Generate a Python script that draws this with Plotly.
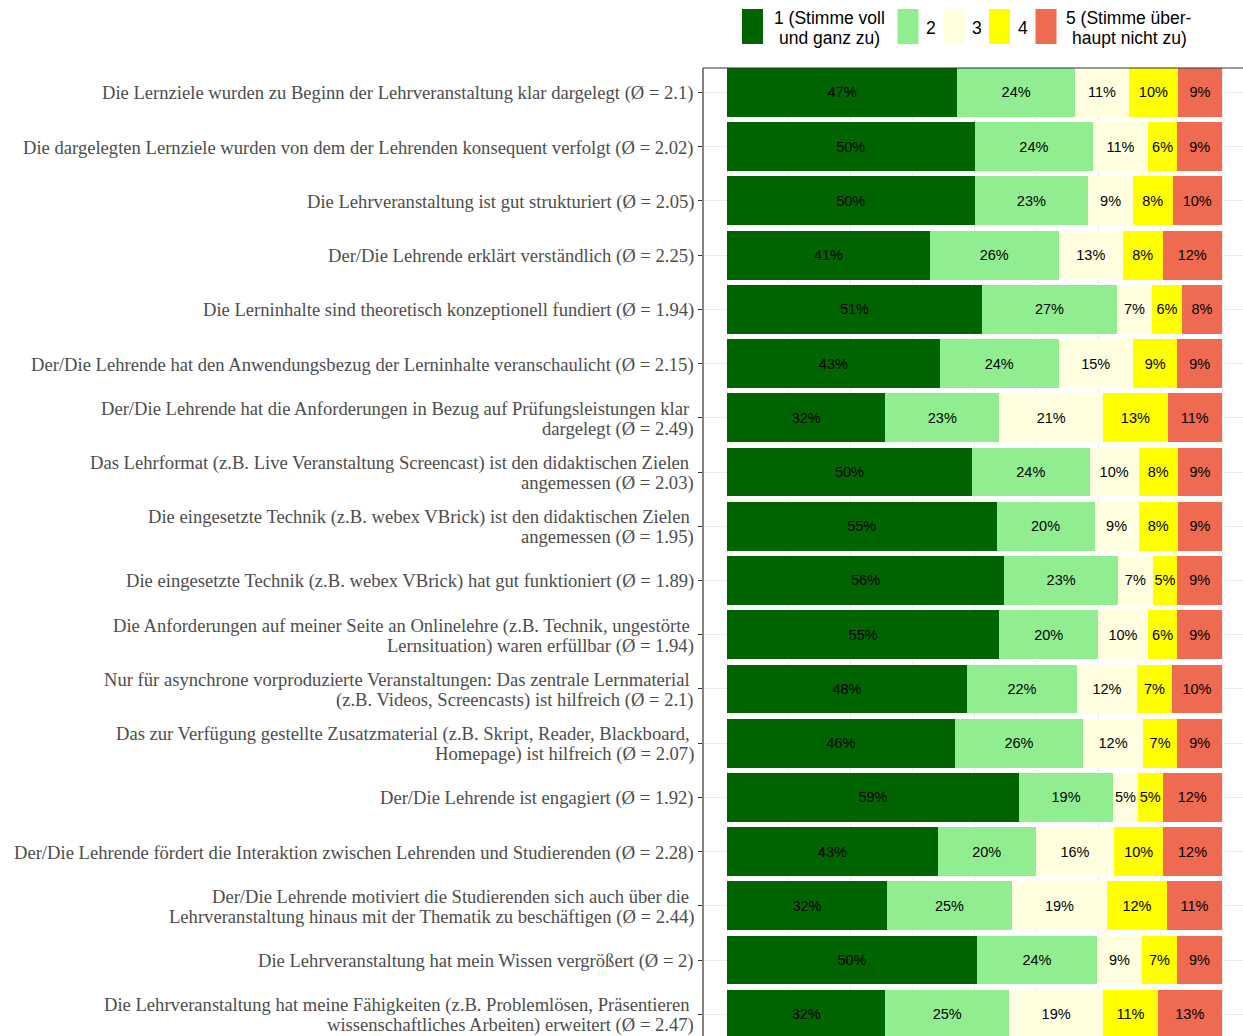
import plotly.graph_objects as go

# Fragen (Reihenfolge von oben nach unten)
fragen = [
    "Die Lernziele wurden zu Beginn der Lehrveranstaltung klar dargelegt (Ø = 2.1)",
    "Die dargelegten Lernziele wurden von dem der Lehrenden konsequent verfolgt (Ø = 2.02)",
    "Die Lehrveranstaltung ist gut strukturiert (Ø = 2.05)",
    "Der/Die Lehrende erklärt verständlich (Ø = 2.25)",
    "Die Lerninhalte sind theoretisch konzeptionell fundiert (Ø = 1.94)",
    "Der/Die Lehrende hat den Anwendungsbezug der Lerninhalte veranschaulicht (Ø = 2.15)",
    "Der/Die Lehrende hat die Anforderungen in Bezug auf Prüfungsleistungen klar\u00a0<br>dargelegt (Ø = 2.49)",
    "Das Lehrformat (z.B. Live Veranstaltung Screencast) ist den didaktischen Zielen\u00a0<br>angemessen (Ø = 2.03)",
    "Die eingesetzte Technik (z.B. webex VBrick) ist den didaktischen Zielen\u00a0<br>angemessen (Ø = 1.95)",
    "Die eingesetzte Technik (z.B. webex VBrick) hat gut funktioniert (Ø = 1.89)",
    "Die Anforderungen auf meiner Seite an Onlinelehre (z.B. Technik, ungestörte\u00a0<br>Lernsituation) waren erfüllbar (Ø = 1.94)",
    "Nur für asynchrone vorproduzierte Veranstaltungen: Das zentrale Lernmaterial\u00a0<br>(z.B. Videos, Screencasts) ist hilfreich (Ø = 2.1)",
    "Das zur Verfügung gestellte Zusatzmaterial (z.B. Skript, Reader, Blackboard,\u00a0<br>Homepage) ist hilfreich (Ø = 2.07)",
    "Der/Die Lehrende ist engagiert (Ø = 1.92)",
    "Der/Die Lehrende fördert die Interaktion zwischen Lehrenden und Studierenden (Ø = 2.28)",
    "Der/Die Lehrende motiviert die Studierenden sich auch über die\u00a0<br>Lehrveranstaltung hinaus mit der Thematik zu beschäftigen (Ø = 2.44)",
    "Die Lehrveranstaltung hat mein Wissen vergrößert (Ø = 2)",
    "Die Lehrveranstaltung hat meine Fähigkeiten (z.B. Problemlösen, Präsentieren\u00a0<br>wissenschaftliches Arbeiten) erweitert (Ø = 2.47)",
]

# Anteile in % je Antwortstufe
stufe1 = [47, 50, 50, 41, 51, 43, 32, 50, 55, 56, 55, 48, 46, 59, 43, 32, 50, 32]
stufe2 = [24, 24, 23, 26, 27, 24, 23, 24, 20, 23, 20, 22, 26, 19, 20, 25, 24, 25]
stufe3 = [11, 11, 9, 13, 7, 15, 21, 10, 9, 7, 10, 12, 12, 5, 16, 19, 9, 19]
stufe4 = [10, 6, 8, 8, 6, 9, 13, 8, 8, 5, 6, 7, 7, 5, 10, 12, 7, 11]
stufe5 = [9, 9, 10, 12, 8, 9, 11, 9, 9, 9, 9, 10, 9, 12, 12, 11, 9, 13]

legend_labels = ["1 (Stimme voll<br>und ganz zu)", "2", "3", "4",
                 "5 (Stimme über-<br>haupt nicht zu)"]
farben = ["#006400", "#90EE90", "#FFFFE0", "#FFFF00", "#EE6A50"]

fig = go.Figure()
for werte, name, farbe in zip([stufe1, stufe2, stufe3, stufe4, stufe5],
                              legend_labels, farben):
    fig.add_trace(go.Bar(
        y=fragen, x=werte, orientation="h", name=name,
        marker=dict(color=farbe, line=dict(width=0)),
        text=[f"{v}%" for v in werte],
        textposition="inside", insidetextanchor="middle",
        textangle=0, constraintext="none",
        textfont=dict(family="Liberation Sans", size=14.5, color="black"),
        showlegend=False,
    ))

PW, PH = 1243, 1036   # Fenster
L, T = 703, 68        # Panel links/oben


def px_x(x):
    return (x - L) / (PW - L)


def px_y(y):
    return 1 - (y - T) / (PH - T)


fig.update_layout(
    width=PW, height=PH,
    barmode="stack", barnorm="percent", bargap=0.1,
    plot_bgcolor="white", paper_bgcolor="white",
    margin=dict(l=L, r=0, t=T, b=0),
    xaxis=dict(range=[-4.85, 104.24], showticklabels=False, ticks="",
               showgrid=True, gridcolor="#EBEBEB", gridwidth=1.1, dtick=25,
               tick0=0, zeroline=False,
               minor=dict(dtick=12.5, showgrid=True, gridcolor="#F2F2F2",
                          gridwidth=0.6)),
    yaxis=dict(range=[17.40, -0.45], type="category",
               ticks="outside", ticklen=4, tickcolor="#333333",
               showticklabels=False,
               showgrid=True, gridcolor="#EBEBEB", gridwidth=1.1),
)

# Achsenbeschriftung zeilenweise (engerer Zeilenabstand wie im Original)
for frage in fragen:
    zeilen = frage.split("<br>")
    n = len(zeilen)
    for i, z in enumerate(zeilen):
        fig.add_annotation(
            x=0, xref="paper", y=frage, yref="y", text=z,
            showarrow=False, xanchor="right", yanchor="middle",
            xshift=-7, yshift=((n - 1) / 2 - i) * 20 - 1,
            font=dict(family="Liberation Serif", size=18.6, color="#4D4D4D"),
        )

# Panelrahmen (links, oben)
fig.add_shape(type="line", xref="paper", yref="paper", x0=0, x1=0, y0=0,
              y1=1, line=dict(color="#333333", width=1.2))
fig.add_shape(type="line", xref="paper", yref="paper", x0=0, x1=1, y0=1,
              y1=1, line=dict(color="#333333", width=1.2))

# Legende oben
keys_x = [742, 897.5, 944, 989, 1035.5]
text_x = [829, 931, 976.5, 1022.5, 1129]
for kx, tx, name, farbe in zip(keys_x, text_x, legend_labels, farben):
    fig.add_shape(type="rect", xref="paper", yref="paper",
                  x0=px_x(kx), x1=px_x(kx + 21),
                  y0=px_y(44), y1=px_y(9),
                  fillcolor=farbe, line=dict(width=0))
    zeilen = name.split("<br>")
    ys = [28] if len(zeilen) == 1 else [18, 38]
    for z, ty in zip(zeilen, ys):
        fig.add_annotation(x=px_x(tx), y=px_y(ty), xref="paper", yref="paper",
                           text=z, showarrow=False,
                           xanchor="center", yanchor="middle",
                           font=dict(family="Liberation Sans", size=17.5,
                                     color="black"))

# Seitenrand entfernen, damit die Figur bei (0, 0) beginnt
fig.write_html("out.html", config={"displayModeBar": False}, post_script=(
    "document.body.style.margin='0';"
    "document.body.style.overflow='hidden';"))
